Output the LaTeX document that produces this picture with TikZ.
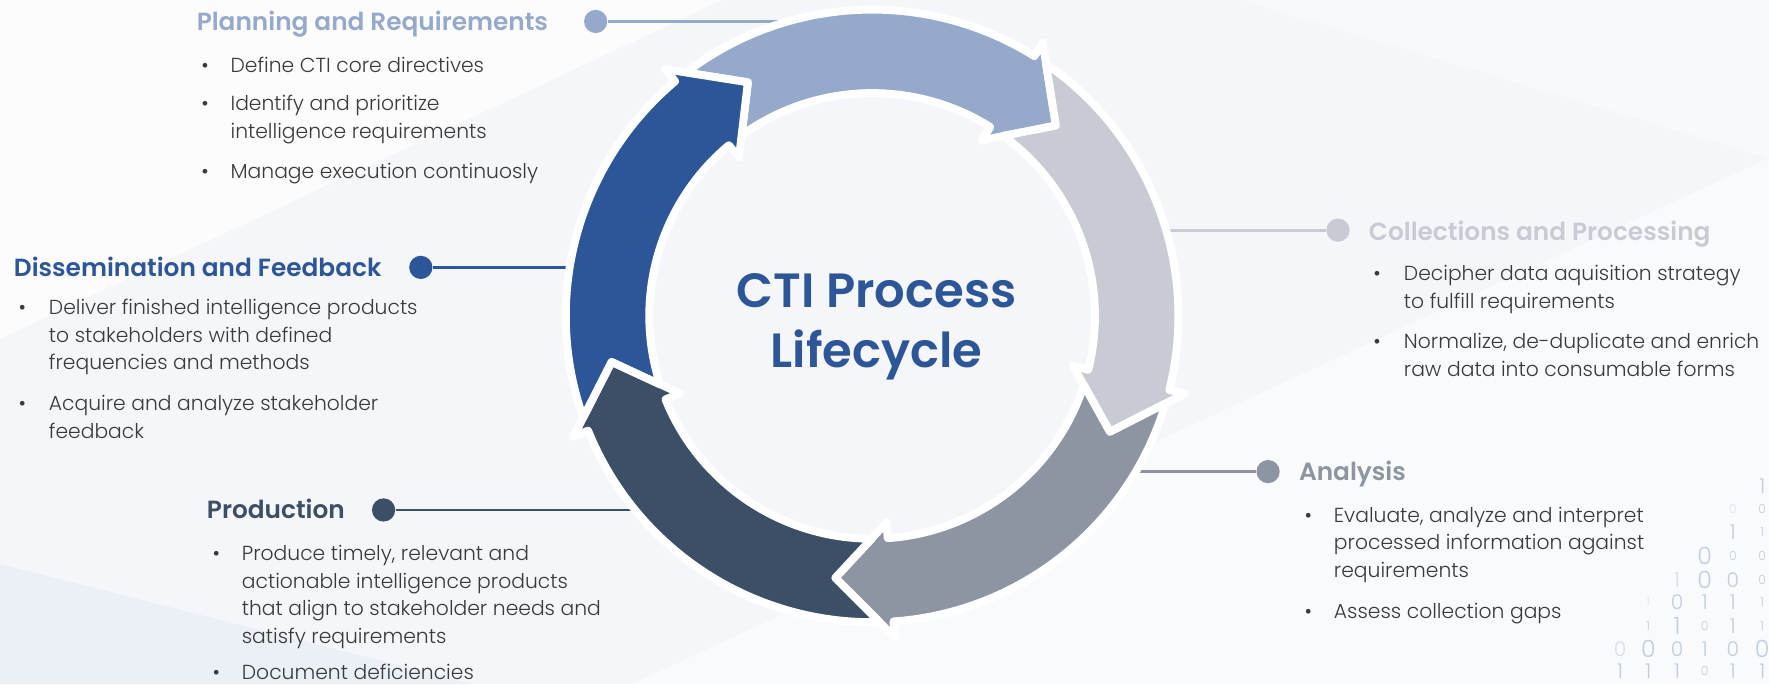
\documentclass[tikz,border=0pt]{standalone}
\usepackage{fontspec}
\newfontfamily\bodyf{Poppins Light}
\newfontfamily\headf{Poppins SemiBold}
\definecolor{planC}{HTML}{95AACA}
\definecolor{collC}{HTML}{C8CBD3}
\definecolor{anaC}{HTML}{8E95A2}
\definecolor{prodC}{HTML}{3D4F67}
\definecolor{dissC}{HTML}{2D5699}
\definecolor{bodyC}{HTML}{3A3A3A}
\definecolor{bgC}{HTML}{F4F6FA}
\definecolor{bgB}{HTML}{E6ECF6}
\definecolor{digC}{HTML}{C3CDDF}
\def\Ro{271.5}\def\Ri{197.5}\def\Rm{234.5}\def\Rob{285.5}\def\Rib{183.5}
\newcommand\ringarrow[2]{%
 \pgfmathsetmacro\tipa{#2}%
 \pgfmathsetmacro\prva{#2+72}%
 \pgfmathsetmacro\hb{#2+12}%
 \pgfmathsetmacro\ta{#2+72+9.4}%
 \pgfmathsetmacro\tb{#2+72+7.9}%
 \path[seg=#1] (\ta:\Ro) arc[start angle=\ta, end angle=\hb, radius=\Ro] -- (\hb:\Rob) -- (\tipa:\Rm) -- (\hb:\Rib) -- (\hb:\Ri) arc[start angle=\hb, end angle=\tb, radius=\Ri] -- (\prva:\Rm) -- cycle;}
\newcommand\lns[1]{\begin{tabular}[t]{@{}l@{}}#1\end{tabular}}
\tikzset{
 hdr/.style={anchor=base west, inner sep=0pt, text=#1, font=\headf\fontsize{11}{13}\selectfont},
 bodytxt/.style={anchor=base west, inner sep=0pt, text=bodyC, font=\bodyf\fontsize{9}{12.2}\selectfont},
 bul/.style={anchor=base west, inner sep=0pt, text=bodyC, font=\bodyf\fontsize{9}{12.2}\selectfont},
 hdot/.style={circle, inner sep=0pt, minimum size=10.3pt, fill=#1},
 conn/.style={line width=1.2pt, draw=#1},
 seg/.style={fill=#1, draw=white, line width=3.5pt, line join=round},
 bitS/.style={text=digC, inner sep=0pt, font=\bodyf\fontsize{5.5}{6}\selectfont},
 bitM/.style={text=digC, inner sep=0pt, font=\bodyf\fontsize{9}{10}\selectfont},
 bitL/.style={text=digC, inner sep=0pt, font=\bodyf\fontsize{10.5}{12}\selectfont},
}
\begin{document}
\begin{tikzpicture}[x=0.5pt, y=-0.5pt]
\useasboundingbox (0,0) rectangle (1568,606.3);
% background
\fill[bgC] (0,0) rectangle (1568,606.3);
\fill[white, opacity=0.75] (0,0) -- (640,0) -- (0,300) -- cycle;
\fill[white, opacity=0.45] (560,606.3) -- (1568,140) -- (1568,606.3) -- cycle;
\fill[white, opacity=0.4] (1100,0) -- (1568,0) -- (1568,140) -- cycle;
\fill[bgB, opacity=0.6] (0,500) -- (420,606.3) -- (0,606.3) -- cycle;

% connector end points inside the ring band
\coordinate (pend) at (760,19);
\coordinate (cend) at (1000,204);
\coordinate (dend) at (540,237);
\coordinate (aend) at (960,418);
\coordinate (rend) at (620,452);

% dots
\node[hdot=planC] (pdot) at (528,19) {};
\node[hdot=collC] (cdot) at (1186,204) {};
\node[hdot=dissC] (ddot) at (373,237) {};
\node[hdot=anaC] (adot) at (1124,418) {};
\node[hdot=prodC] (rdot) at (340,452) {};
\draw[conn=planC] (pdot) -- (pend);
\draw[conn=collC] (cdot) -- (cend);
\draw[conn=dissC] (ddot) -- (dend);
\draw[conn=anaC] (adot) -- (aend);
\draw[conn=prodC] (rdot) -- (rend);

% ring of arrows
\begin{scope}[shift={(773,280)}, yscale=-1]
 \ringarrow{planC}{46}
 \ringarrow{collC}{-26}
 \ringarrow{anaC}{-98}
 \ringarrow{prodC}{-170}
 \ringarrow{dissC}{118}
\end{scope}

% title
\node[align=center, text=dissC, font=\headf\fontsize{21.3}{26.5}\selectfont, inner sep=0pt] (title) at (777,290) {CTI Process\\Lifecycle};

% Planning
\node[hdr=planC] (ph) at (174,27) {Planning and Requirements};
\node[bul] (pb1) at (178,64) {\textbullet};
\node[bodytxt] (pt1) at (204,64) {Define CTI core directives};
\node[bul] (pb2) at (178,98) {\textbullet};
\node[bodytxt] (pt2) at (204,98) {\lns{Identify and prioritize\\intelligence requirements}};
\node[bul] (pb3) at (178,158) {\textbullet};
\node[bodytxt] (pt3) at (204,158) {Manage execution continuosly};

% Dissemination
\node[hdr=dissC] (dh) at (12,245) {Dissemination and Feedback};
\node[bul] (db1) at (16,279) {\textbullet};
\node[bodytxt] (dt1) at (43,279) {\lns{Deliver finished intelligence products\\to stakeholders with defined\\frequencies and methods}};
\node[bul] (db2) at (16,364) {\textbullet};
\node[bodytxt] (dt2) at (43,364) {\lns{Acquire and analyze stakeholder\\feedback}};

% Production
\node[hdr=prodC] (rh) at (183,460) {Production};
\node[bul] (rb1) at (188,497) {\textbullet};
\node[bodytxt] (rt1) at (214,497) {\lns{Produce timely, relevant and\\actionable intelligence products\\that align to stakeholder needs and\\satisfy requirements}};
\node[bul] (rb2) at (188,602) {\textbullet};
\node[bodytxt] (rt2) at (214,602) {Document deficiencies};

% Collections
\node[hdr=collC] (ch) at (1213,213) {Collections and Processing};
\node[bul] (cb1) at (1217,249) {\textbullet};
\node[bodytxt] (ct1) at (1244,249) {\lns{Decipher data aquisition strategy\\to fulfill requirements}};
\node[bul] (cb2) at (1217,309) {\textbullet};
\node[bodytxt] (ct2) at (1244,309) {\lns{Normalize, de-duplicate and enrich\\raw data into consumable forms}};

% Analysis
\node[hdr=anaC] (ah) at (1151,426) {Analysis};
\node[bul] (ab1) at (1156,463) {\textbullet};
\node[bodytxt] (at1) at (1182,463) {\lns{Evaluate, analyze and interpret\\processed information against\\requirements}};
\node[bul] (ab2) at (1156,548) {\textbullet};
\node[bodytxt] (at2) at (1182,548) {Assess collection gaps};

% binary digits
\foreach \c/\r/\d/\s/\o [count=\i] in {
 1562/431/1/M/1, 1536/451/0/S/0.5, 1562/451/0/S/1,
 1536/472/1/M/1, 1562/472/1/S/1,
 1511/493/0/L/1, 1536/493/0/S/1, 1562/493/0/S/1,
 1486.5/514/1/M/0.6, 1511/514/0/L/1, 1536/514/0/M/1, 1562/514/0/S/1,
 1461/534/1/S/0.4, 1486.5/534/0/M/1, 1511/534/1/M/1, 1536/534/1/M/1, 1562/534/1/S/1,
 1461/555/1/S/1, 1486.5/555/1/L/1, 1511/555/0/S/1, 1536/555/1/M/1, 1562/555/1/S/1,
 1436/575/0/M/0.6, 1461/575/0/L/1, 1486.5/575/0/M/1, 1511/575/1/M/1, 1536/575/0/M/1, 1562/575/0/L/1,
 1436/595/1/M/1, 1461/595/1/M/1, 1486.5/595/1/M/1, 1511/595/0/S/1, 1536/595/1/M/1, 1562/595/1/M/1}
 { \node[bit\s, opacity=\o] (bit\i) at (\c,\r) {\d}; }
\end{tikzpicture}
\end{document}
